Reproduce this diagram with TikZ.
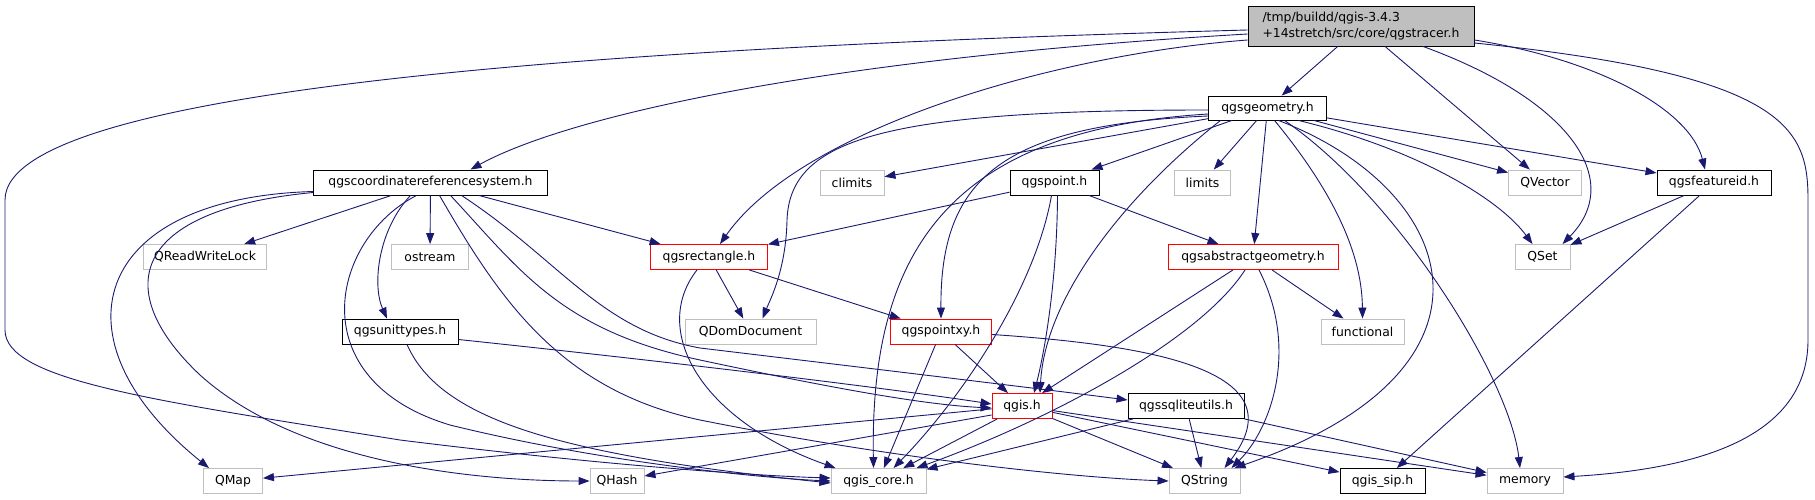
\documentclass[tikz,border=0pt]{standalone}
\usepackage{fontspec}
\newfontfamily\dejavu{DejaVu Sans}
\usepackage{xcolor}
\definecolor{edgeblue}{RGB}{25, 25, 112}
\definecolor{extgray}{RGB}{191, 191, 191}
\definecolor{truncred}{RGB}{255, 0, 0}
\usepackage{tikz}
\usetikzlibrary{arrows.meta}

\begin{document}
\begin{tikzpicture}[x=1pt, y=-1pt, >={Triangle[length=11pt, width=8pt]},
    file/.style={draw=black, line width=0.9pt, inner sep=0pt, minimum height=25pt,
        font={\dejavu\fontsize{12.4}{16}\selectfont}},
    ext/.style={file, draw=extgray},
    trunc/.style={file, draw=truncred},
    dep/.style={->, draw=edgeblue, line width=0.9pt}]
    \useasboundingbox (0,0) rectangle (1815,500);

    % files
    \node[file, fill=extgray, align=left, minimum width=226pt, minimum height=40pt] (tracer) at (1361,26)
        {/tmp/buildd/qgis-3.4.3\\+14stretch/src/core/qgstracer.h};
    \node[file, minimum width=118pt, minimum height=24pt] (geom) at (1267.5,108) {qgsgeometry.h};
    \node[file, minimum width=234pt] (crs) at (430.5,182.5) {qgscoordinatereferencesystem.h};
    \node[ext, minimum width=64pt] (climits) at (852,182.5) {climits};
    \node[file, minimum width=89pt] (qpoint) at (1054.5,182.5) {qgspoint.h};
    \node[ext, minimum width=56pt] (limits) at (1202.5,182.5) {limits};
    \node[ext, minimum width=73pt] (qvector) at (1545,182.5) {QVector};
    \node[file, minimum width=114pt] (featid) at (1714,182.5) {qgsfeatureid.h};
    \node[ext, minimum width=123pt] (rwlock) at (205,257) {QReadWriteLock};
    \node[ext, minimum width=77pt] (ostream) at (430,257) {ostream};
    \node[trunc, minimum width=117pt] (rect) at (709,257) {qgsrectangle.h};
    \node[trunc, minimum width=170pt] (absgeom) at (1253,257) {qgsabstractgeometry.h};
    \node[ext, minimum width=55pt] (qset) at (1542.5,257) {QSet};
    \node[file, minimum width=116pt] (unit) at (400,331.5) {qgsunittypes.h};
    \node[ext, minimum width=131pt] (domdoc) at (750.5,331.5) {QDomDocument};
    \node[trunc, minimum width=101pt] (pointxy) at (941,331.5) {qgspointxy.h};
    \node[ext, minimum width=83pt] (functional) at (1362.5,331.5) {functional};
    \node[trunc, minimum width=60pt] (qgis) at (1022,406) {qgis.h};
    \node[file, minimum width=116pt] (sqlite) at (1186,406) {qgssqliteutils.h};
    \node[ext, minimum width=59pt] (qmap) at (233,481) {QMap};
    \node[ext, minimum width=54pt] (qhash) at (617,481) {QHash};
    \node[ext, minimum width=95pt] (core) at (878.5,481) {qgis\_core.h};
    \node[ext, minimum width=71pt] (qstring) at (1204.5,481) {QString};
    \node[file, minimum width=85pt] (sip) at (1382.5,481) {qgis\_sip.h};
    \node[ext, minimum width=76pt] (memory) at (1525,481) {memory};

    % includes of qgstracer.h
    \draw[dep] (tracer) -- (geom);
    \draw[dep] (tracer) -- (qvector);
    \draw[dep] ([yshift=-4pt]tracer.west) .. controls (700,45) and (5,80) .. (5,200) -- (5,330)
        .. controls (5,380) and (150,400) .. (400,440) .. controls (600,465) and (760,476) .. ([yshift=3pt]core.west);
    \draw[dep] ([yshift=-8pt]tracer.west) .. controls (800,60) and (560,120) .. ([xshift=40pt]crs.north);
    \draw[dep] ([yshift=-14pt]tracer.west) .. controls (1050,55) and (800,130) .. ([xshift=11pt]rect.north);
    \draw[dep] ([xshift=62pt]tracer.south) .. controls (1570,100) and (1625,180) .. ([xshift=20pt]qset.north);
    \draw[dep] ([yshift=-14pt]tracer.east) .. controls (1600,60) and (1690,110) .. ([xshift=-9pt]featid.north);
    \draw[dep] ([yshift=-17pt]tracer.east) .. controls (1790,75) and (1808,130) .. (1808,200) -- (1808,340)
        .. controls (1808,445) and (1680,470) .. ([yshift=4pt]memory.east);

    % includes of qgsgeometry.h
    \draw[dep] (geom) -- (climits);
    \draw[dep] (geom) -- (qpoint);
    \draw[dep] (geom) -- (limits);
    \draw[dep] (geom) -- (absgeom);
    \draw[dep] (geom) -- (qvector);
    \draw[dep] (geom) -- (featid);
    \draw[dep] ([xshift=31pt]geom.south) .. controls (1420,150) and (1500,200) .. ([xshift=-10pt]qset.north);
    \draw[dep] ([xshift=17pt]geom.south) .. controls (1400,200) and (1510,380) .. ([xshift=-5pt]memory.north);
    \draw[dep] ([xshift=11pt]geom.south) .. controls (1460,190) and (1520,370) .. ([xshift=30pt]qstring.north);
    \draw[dep] ([xshift=7pt]geom.south) .. controls (1340,200) and (1362,260) .. (functional.north);
    \draw[dep] ([xshift=-47pt]geom.south) .. controls (1120,200) and (1045,300) .. ([xshift=18pt]qgis.north);
    \draw[dep] ([yshift=-8pt]geom.west) .. controls (1000,125) and (940,180) .. (pointxy.north);
    \draw[dep] ([yshift=-6pt]geom.west) .. controls (950,130) and (870,250) .. ([xshift=-5pt]core.north);
    \draw[dep] ([yshift=-2pt]geom.west) .. controls (880,110) and (790,140) .. (787,220)
        .. controls (786,270) and (770,300) .. ([xshift=12pt]domdoc.north);

    % includes of qgscoordinatereferencesystem.h
    \draw[dep] (crs) -- (rwlock);
    \draw[dep] (crs) -- (ostream);
    \draw[dep] (crs) -- (rect);
    \draw[dep] ([xshift=-20pt]crs.south) .. controls (378,230) and (372,285) .. ([xshift=-13pt]unit.north);
    \draw[dep] ([yshift=-9pt]crs.west) .. controls (90,198) and (50,340) .. ([xshift=-24pt]qmap.north);
    \draw[dep] ([yshift=-10pt]crs.west) .. controls (130,210) and (110,290) .. (200,375)
        .. controls (300,465) and (480,481) .. (qhash.west);
    \draw[dep] ([xshift=-14pt]crs.south) .. controls (330,240) and (300,380) .. (450,425)
        .. controls (600,462) and (760,478) .. (core.west);
    \draw[dep] ([xshift=9pt]crs.south) .. controls (500,300) and (560,390) .. (700,420)
        .. controls (900,460) and (1080,478) .. (qstring.west);
    \draw[dep] ([xshift=20pt]crs.south) .. controls (520,270) and (560,330) .. (700,360)
        .. controls (850,392) and (930,405) .. ([yshift=-2pt]qgis.west);
    \draw[dep] ([xshift=31pt]crs.south) .. controls (560,260) and (600,330) .. (700,348)
        .. controls (900,372) and (1050,390) .. ([yshift=6pt]sqlite.west);

    % includes of the second level
    \draw[dep] ([yshift=-8pt]unit.east) .. controls (700,365) and (900,390) .. ([yshift=2pt]qgis.west);
    \draw[dep] ([xshift=7pt]unit.south) .. controls (440,420) and (560,455) .. ([yshift=-2pt]core.west);
    \draw[dep] (rect) -- (domdoc);
    \draw[dep] (rect) -- (pointxy);
    \draw[dep] ([xshift=-12pt]rect.south) .. controls (650,330) and (700,420) .. ([xshift=5pt]core.north west);
    \draw[dep] (qpoint) -- (rect);
    \draw[dep] (qpoint) -- (absgeom);
    \draw[dep] ([xshift=3pt]qpoint.south) .. controls (1057,280) and (1045,350) .. ([xshift=12pt]qgis.north);
    \draw[dep] ([xshift=-3pt]qpoint.south) .. controls (1035,290) and (960,400) .. ([xshift=15pt]core.north);
    \draw[dep] (absgeom) -- (functional);
    \draw[dep] (absgeom) -- (qgis);
    \draw[dep] ([xshift=-8pt]absgeom.south) .. controls (1200,340) and (1050,420) .. ([xshift=38pt]core.north);
    \draw[dep] ([xshift=6pt]absgeom.south) .. controls (1300,350) and (1270,430) .. ([xshift=27pt]qstring.north);
    \draw[dep] (pointxy) -- (qgis);
    \draw[dep] (pointxy) -- (core);
    \draw[dep] ([yshift=-3pt]pointxy.east) .. controls (1150,345) and (1300,370) .. ([xshift=20pt]qstring.north);
    \draw[dep] (qgis) -- (qmap);
    \draw[dep] ([yshift=-9pt]qgis.west) -- ([yshift=5pt]qhash.east);
    \draw[dep] (qgis) -- (core);
    \draw[dep] (qgis) -- (qstring);
    \draw[dep] (qgis) -- (sip);
    \draw[dep] (qgis) -- (memory);
    \draw[dep] (sqlite) -- (core);
    \draw[dep] (sqlite) -- (qstring);
    \draw[dep] (sqlite) -- (memory);
    \draw[dep] (featid) -- (qset);
    \draw[dep] (featid) -- (sip);
\end{tikzpicture}
\end{document}
